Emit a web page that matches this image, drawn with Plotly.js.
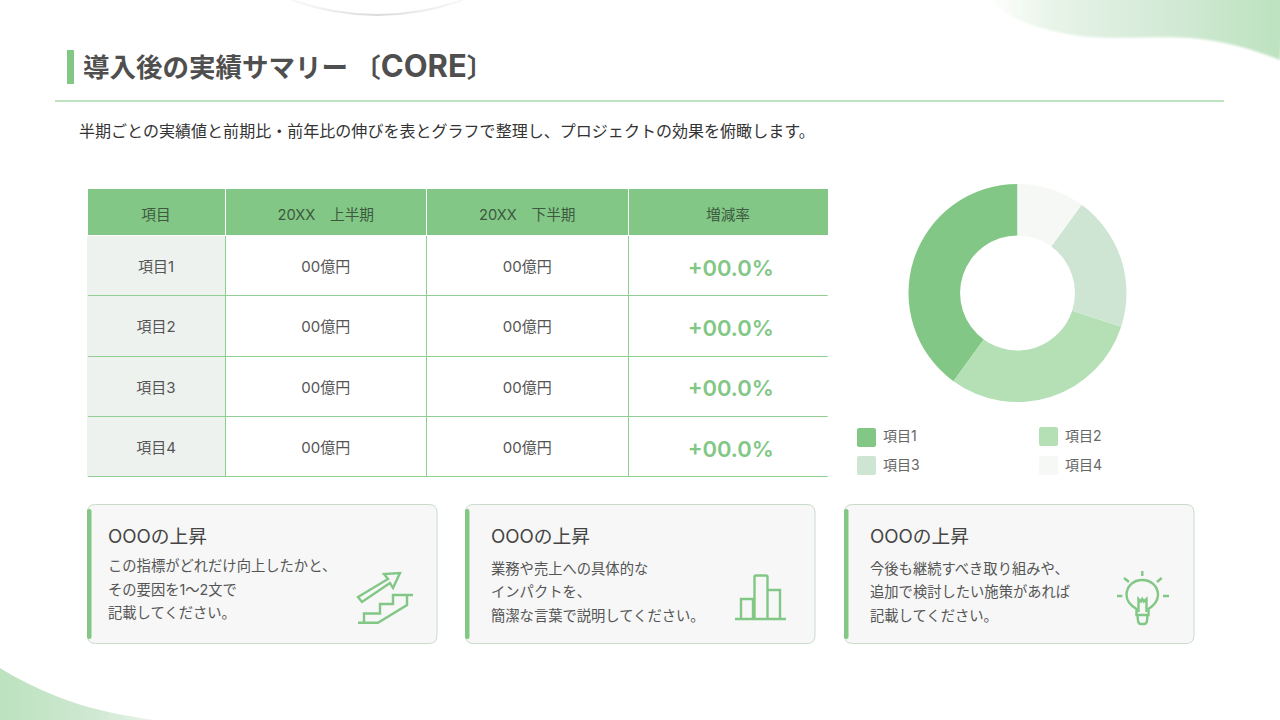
<!DOCTYPE html>
<html lang="ja"><head><meta charset="utf-8">
<script src="https://cdn.plot.ly/plotly-3.0.1.min.js"></script>
<style>html,body{margin:0;padding:0;background:#fff;overflow:hidden}#c{width:1280px;height:720px}</style>
</head><body><div id="c"></div>
<script>
// ---- data ----
const titleMain = '導入後の実績サマリー', titleTagOpen = ' 〔', titleTag = 'CORE', titleTagClose = '〕';
const subtitleText = '半期ごとの実績値と前期比・前年比の伸びを表とグラフで整理し、プロジェクトの効果を俯瞰します。';
const tableHeader = ['項目', '20XX　上半期', '20XX　下半期', '増減率'];
const rowLabels = ['項目1', '項目2', '項目3', '項目4'];
const firstHalf = ['00億円', '00億円', '00億円', '00億円'];
const secondHalf = ['00億円', '00億円', '00億円', '00億円'];
const changeRates = ['+00.0%', '+00.0%', '+00.0%', '+00.0%'];
const pieLabels = ['項目1', '項目2', '項目3', '項目4'];
const pieValues = [40, 30, 20, 10];
const pieColors = ['#82c785', '#b5e0b5', '#cfe5d3', '#f6f8f5'];
const cardTitles = ['OOOの上昇', 'OOOの上昇', 'OOOの上昇'];
const cardBodies = [
  ['この指標がどれだけ向上したかと、', 'その要因を1〜2文で', '記載してください。'],
  ['業務や売上への具体的な', 'インパクトを、', '簡潔な言葉で説明してください。'],
  ['今後も継続すべき取り組みや、', '追加で検討したい施策があれば', '記載してください。']
];

// ---- helpers: layout given in page pixels, converted to paper fractions ----
const W = 1280, H = 720;
const GREEN = '#82c785', FONT = 'Inter, "Noto Sans CJK JP", sans-serif';
const fx = x => x / W, fy = y => 1 - y / H;
function toPaper(path) {
  return path.replace(/([MLCQ])([^MLCQZ]+)/g, (m, c, args) => {
    const n = args.trim().split(/[\s,]+/).map(Number);
    return c + n.map((v, i) => (i % 2 ? fy(v) : fx(v)).toFixed(6)).join(' ');
  });
}
function rr(x0, y0, x1, y1, r) {
  return `M${x0 + r} ${y0} L${x1 - r} ${y0} Q${x1} ${y0} ${x1} ${y0 + r} L${x1} ${y1 - r} Q${x1} ${y1} ${x1 - r} ${y1} L${x0 + r} ${y1} Q${x0} ${y1} ${x0} ${y1 - r} L${x0} ${y0 + r} Q${x0} ${y0} ${x0 + r} ${y0} Z`;
}
const shape = (path, fill, line, lw, layer) => ({type: 'path', xref: 'paper', yref: 'paper', layer: layer || 'below',
  path: toPaper(path), fillcolor: fill || 'rgba(0,0,0,0)', line: {color: line || 'rgba(0,0,0,0)', width: lw || 0}});
const note = (text, x, y, size, color, extra) => ({xref: 'paper', yref: 'paper', x: fx(x - 2), y: fy(y - 0.5), text,
  xanchor: 'left', yanchor: 'middle', showarrow: false, align: 'left',
  font: Object.assign({family: FONT, size, color}, extra || {})});

// ---- static decoration ----
const bg = `<svg xmlns="http://www.w3.org/2000/svg" width="1280" height="720" viewBox="0 0 1280 720">
<defs>
<linearGradient id="a" x1="0" x2="1" y1="0" y2="0"><stop offset="0" stop-color="#eaf5ea" stop-opacity="0"/><stop offset=".22" stop-color="#e8f4e8"/><stop offset=".6" stop-color="#d3ead6"/><stop offset="1" stop-color="#bce2be"/></linearGradient>
<linearGradient id="b" x1="0" x2="1" y1="0" y2="0"><stop offset="0" stop-color="#bce2be"/><stop offset=".6" stop-color="#cfe8d2"/><stop offset="1" stop-color="#eaf5ea"/></linearGradient>
<linearGradient id="g" x1="0" x2="1" y1="0" y2="0"><stop offset="0" stop-color="#e6e6e6" stop-opacity=".3"/><stop offset=".5" stop-color="#d8dbd8"/><stop offset="1" stop-color="#e6e6e6" stop-opacity=".3"/></linearGradient>
<filter id="s" x="-10%" y="-10%" width="120%" height="120%"><feGaussianBlur stdDeviation="1.2"/></filter>
</defs>
<path d="M987 0 C1005 12 1015 20 1032 25 C1050 31 1070 35 1089 37 C1120 39 1160 36 1191 38 C1225 41 1255 50 1280 60 L1285 -5 L987 -5 Z" fill="url(#a)" filter="url(#s)"/>
<path d="M0 668 C30 687 70 703 100 710 C120 715 135 717 155 720 L0 720 Z" fill="url(#b)"/>
<path d="M292 0 Q377 30 463 0" fill="none" stroke="url(#g)" stroke-width="2"/>
</svg>`;
const images = [{source: 'data:image/svg+xml;charset=utf-8,' + encodeURIComponent(bg), xref: 'paper', yref: 'paper',
  x: 0, y: 1, sizex: 1, sizey: 1, xanchor: 'left', yanchor: 'top', sizing: 'stretch', layer: 'below'}];

const shapes = [
  shape('M67 50 L74 50 L74 84 L67 84 Z', GREEN),
  shape('M55 101 L1224 101', null, '#bfe3c0', 2),
  // the table has no outer side borders
  shape('M87 236 L87 478', null, '#ffffff', 1.6, 'above'),
  shape('M828.5 236 L828.5 478', null, '#ffffff', 1.6, 'above'),
];
const titleHtml = `${titleMain}${titleTagOpen}<span style="font-size:31px">${titleTag}</span>${titleTagClose}`;
const annotations = [
  note(titleHtml, 83, 66, 26.5, '#4f4f4f', {weight: 700}),
  note(subtitleText, 79, 131.5, 16.05, '#333333'),
];

// legend swatches and labels
const legendPos = [[857, 428], [1039, 427], [857, 456], [1039, 456]];
pieLabels.forEach((lab, i) => {
  const [x, y] = legendPos[i];
  shapes.push(shape(rr(x, y, x + 19, y + 19, 2), pieColors[i]));
  annotations.push(note(lab, x + 26, y + 8.5, 14, '#666666'));
});

// cards
const cardX = [87, 465, 844], cardTextX = [108, 491, 870];
const cardLineY = [[566, 590, 613], [569, 592, 616], [569, 592, 616]];
cardX.forEach((x, i) => {
  shapes.push(shape(rr(x + .5, 504.5, x + 350, 643.5, 8), '#f6f7f6', '#c9dccb', 1));
  shapes.push(shape(rr(x, 509, x + 4.5, 639, 2), GREEN));
  annotations.push(note(cardTitles[i], cardTextX[i], 537, 18.7, '#444444'));
  cardBodies[i].forEach((t, j) => annotations.push(note(t, cardTextX[i], cardLineY[i][j], 14.3, '#555555')));
});

// icons
const icon = p => shapes.push(shape(p, null, GREEN, 2.4));
icon('M358 597 L388 579 L384 574 L400 573 L393 588 L390 583 L362 602 Z');
icon('M358 622.7 L378 622.7 L407 605 L407 595 M413 595 L393 595 L393 604 L380 604 L380 613.5 L364 613.5 L364 622.7');
icon('M735 619 L786 619 M741 619 L741 599 L753 599 L753 619 M754.5 619 L754.5 577 Q754.5 575.5 756 575.5 L766 575.5 Q767.5 575.5 767.5 577 L767.5 619 M767.5 590 L780 590 L780 619');
icon('M1136.5 615 L1136.5 609 C1130 605 1126.5 600 1126.5 595 C1126.5 586 1133.5 580 1142.3 580 C1151 580 1158 586 1158 595 C1158 600 1154.5 605 1148.5 609 L1148.5 615 Z');
icon('M1137.5 615 L1138 621 Q1138.5 624 1141 624 L1144 624 Q1146.5 624 1147 621 L1147.5 615');
icon('M1138.5 612 L1138.5 599 L1141 601.5 L1142.3 599 L1143.8 601.5 L1146.5 599 L1146.5 612');
icon('M1142.3 571 L1142.3 576 M1124 578 L1129 582 M1161.7 578 L1157 582 M1117 596 L1122.3 596 M1163 596 L1169 596');

// ---- traces ----
// Plotly tables top-align their text: a blank first line, whose height follows the
// cell font, pushes the visible text to the middle of the row.
const vc = (t, size) => `\u00a0<br><span style="font-size:${size}px">${t}</span>`;
const table = {
  type: 'table',
  domain: {x: [fx(87), fx(828)], y: [fy(479), fy(188.2)]},
  columnwidth: [138, 201.5, 201.5, 200],
  header: {
    values: tableHeader.map(t => vc(t, 14.7)),
    align: 'center', height: 47,
    fill: {color: GREEN},
    line: {color: '#ffffff', width: 1},
    font: {family: FONT, size: 10.4, color: '#3d5a40'}
  },
  cells: {
    values: [rowLabels.map(t => vc(t, 15)), firstHalf.map(t => vc(t, 15)), secondHalf.map(t => vc(t, 15)),
             changeRates.map(t => vc('\u00a0' + t, 22))],
    align: 'center', height: 60.4,
    fill: {color: ['#eef2ef', '#ffffff', '#ffffff', '#ffffff']},
    line: {color: '#8fd092', width: 1},
    font: {family: FONT, size: [12.8, 12.8, 12.8, 14.2], color: ['#555555', '#555555', '#555555', GREEN], weight: [400, 400, 400, 600]}
  }
};
const pieTotal = pieValues.reduce((a, b) => a + b, 0);
const pie = {
  type: 'pie', labels: pieLabels, values: pieValues,
  marker: {colors: pieColors, line: {width: 0}},
  hole: 0.527, sort: false, direction: 'counterclockwise',
  rotation: -360 * pieValues[0] / pieTotal,
  textinfo: 'none', showlegend: false,
  domain: {x: [fx(908.5), fx(1126.5)], y: [fy(402), fy(184)]}
};
Plotly.newPlot('c', [pie, table], {
  width: W, height: H, margin: {l: 0, r: 0, t: 0, b: 0},
  paper_bgcolor: 'rgba(0,0,0,0)', plot_bgcolor: 'rgba(0,0,0,0)',
  showlegend: false, images, shapes, annotations
}, {displayModeBar: false, staticPlot: true});
</script></body></html>
